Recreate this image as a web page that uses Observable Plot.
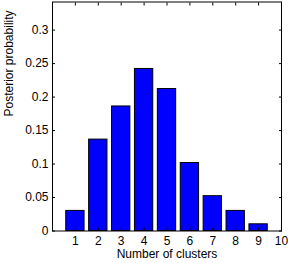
<!DOCTYPE html>
<html>
<head>
<meta charset="utf-8">
<script src="https://cdn.jsdelivr.net/npm/d3@7"></script>
<script src="https://cdn.jsdelivr.net/npm/@observablehq/plot@0.6"></script>
<style>
  html, body { margin: 0; padding: 0; background: #fff; }
  svg { display: block; }
</style>
</head>
<body>
<div id="chart"></div>
<script>
const clusters = [1, 2, 3, 4, 5, 6, 7, 8, 9];
const probabilities = [0.030, 0.1365, 0.186, 0.242, 0.212, 0.1015, 0.052, 0.030, 0.010];
const xTicks = [1, 2, 3, 4, 5, 6, 7, 8, 9, 10];
const yTicks = [0, 0.05, 0.1, 0.15, 0.2, 0.25, 0.3];
const yTickLabels = ["0", "0.05", "0.1", "0.15", "0.2", "0.25", "0.3"];

const data = clusters.map((k, i) => ({k, p: probabilities[i]}));

const chart = Plot.plot({
  width: 288,
  height: 263,
  marginLeft: 52,
  marginRight: 7,
  marginTop: 1.5,
  marginBottom: 32.5,
  style: {fontFamily: "Liberation Sans, Arial, sans-serif", fontSize: "12px", color: "#000", background: "#fff"},
  x: {domain: [0, 10]},
  y: {domain: [0, 0.342]},
  marks: [
    Plot.rectY(data, {x1: d => d.k - 0.4, x2: d => d.k + 0.4, y: "p", fill: "#0000ff", stroke: "#000", strokeWidth: 1}),
    Plot.axisY(yTicks, {anchor: "left", tickSize: -3, tickPadding: 7, tickFormat: (d, i) => yTickLabels[i], fontSize: 12, label: null}),
    Plot.axisY(yTicks, {anchor: "right", tickSize: -3, fill: "none", label: null}),
    Plot.axisX(xTicks, {anchor: "bottom", tickSize: -3, tickPadding: 8, fontSize: 12, label: null}),
    Plot.axisX(xTicks, {anchor: "top", tickSize: -3, fill: "none", label: null}),
    Plot.frame({stroke: "#000", strokeWidth: 1}),
    Plot.text(["Number of clusters"], {frameAnchor: "bottom", dy: 23, fontSize: 12, lineAnchor: "middle"}),
    Plot.text(["Posterior probability"], {frameAnchor: "left", dx: -43, rotate: -90, fontSize: 12, lineAnchor: "middle"})
  ]
});
document.getElementById("chart").appendChild(chart);
</script>
</body>
</html>
